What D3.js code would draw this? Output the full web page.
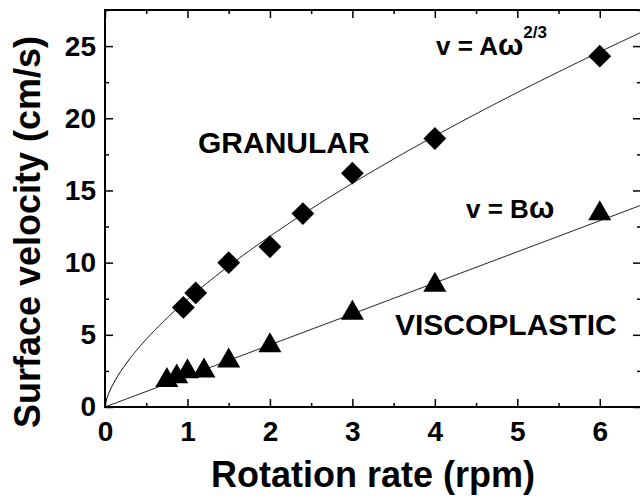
<!DOCTYPE html>
<html>
<head>
<meta charset="utf-8">
<script src="https://cdn.jsdelivr.net/npm/d3@7"></script>
<style>
  body { margin: 0; background: #fff; }
  svg { font-family: "Liberation Sans", Arial, sans-serif; font-weight: bold; }
  .axis path.domain { display: none; }
  .axis line { stroke: #000; stroke-width: 1.5px; }
</style>
</head>
<body>
<svg id="chart"></svg>
<script>
// Data
let granularRate = [0.95, 1.1, 1.5, 2.0, 2.4, 3.0, 4.0, 6.0];
let granularVel  = [6.9, 7.9, 10.0, 11.1, 13.4, 16.2, 18.6, 24.3];
let viscoRate = [0.75, 0.87, 1.0, 1.2, 1.5, 2.0, 3.0, 4.0, 6.0];
let viscoVel  = [1.85, 2.1, 2.45, 2.5, 3.2, 4.25, 6.5, 8.45, 13.4];

// Fit parameters of the two model curves
let fitA = 7.45;   // v = A w^(2/3)
let fitB = 2.15;   // v = B w

let xMajor = [0, 1, 2, 3, 4, 5, 6];
let xMinor = [0.5, 1.5, 2.5, 3.5, 4.5, 5.5, 6.5];
let yMajor = [0, 5, 10, 15, 20, 25];
let yMinor = [2.5, 7.5, 12.5, 17.5, 22.5, 27.5];

// Set the dimensions and margins of the diagram
let margin = {top: 10, right: -1, bottom: 96, left: 105};
let width = 640 - margin.left - margin.right;
let height = 503 - margin.top - margin.bottom;

let svg = d3.select("#chart")
    .attr("width", 640)
    .attr("height", 503)
  .append("g")
    .attr("transform", `translate(${margin.left}, ${margin.top})`);

let x = d3.scaleLinear().domain([0, 6.5]).range([0, width]);
let y = d3.scaleLinear().domain([0, 27.5]).range([height, 0]);

// Inward ticks on all four sides
function addAxis(axis, transform, values, size, labels) {
  let g = svg.append("g")
    .attr("class", "axis")
    .attr("transform", transform)
    .call(axis.tickValues(values).tickSizeInner(-size).tickSizeOuter(0)
      .tickPadding(labels ? labels.pad : 0)
      .tickFormat(labels ? d3.format("d") : ""));
  g.selectAll("text")
    .attr("font-size", labels ? labels.size : 0)
    .attr("fill", "#000");
  return g;
}

addAxis(d3.axisBottom(x), `translate(0, ${height})`, xMajor, 8, {pad: 14, size: 28});
addAxis(d3.axisBottom(x), `translate(0, ${height})`, xMinor, 4);
addAxis(d3.axisTop(x), "translate(0, 0)", xMajor, 8);
addAxis(d3.axisTop(x), "translate(0, 0)", xMinor, 4);
addAxis(d3.axisLeft(y), "translate(0, 0)", yMajor, 8, {pad: 9, size: 28});
addAxis(d3.axisLeft(y), "translate(0, 0)", yMinor, 4);
addAxis(d3.axisRight(y), `translate(${width}, 0)`, yMajor, 8);
addAxis(d3.axisRight(y), `translate(${width}, 0)`, yMinor, 4);

// Frame
svg.append("rect")
  .attr("width", width)
  .attr("height", height)
  .attr("fill", "none")
  .attr("stroke", "#000")
  .attr("stroke-width", 2);

// Fit curves
svg.append("clipPath").attr("id", "clip")
  .append("rect").attr("width", width).attr("height", height);

let wGrid = d3.range(0, 6.5001, 0.01);
let line = d3.line().x(d => x(d[0])).y(d => y(d[1]));

svg.append("path")
  .datum(wGrid.map(w => [w, fitA * Math.pow(w, 2 / 3)]))
  .attr("clip-path", "url(#clip)")
  .attr("fill", "none")
  .attr("stroke", "#000")
  .attr("stroke-width", 1)
  .attr("d", line);

svg.append("path")
  .datum(wGrid.map(w => [w, fitB * w]))
  .attr("clip-path", "url(#clip)")
  .attr("fill", "none")
  .attr("stroke", "#000")
  .attr("stroke-width", 1)
  .attr("d", line);

// Markers
let diamond = d3.symbol().type(d3.symbolSquare).size(260);
svg.selectAll("path.granular")
  .data(granularRate.map((r, i) => [r, granularVel[i]]))
  .enter().append("path")
    .attr("class", "granular")
    .attr("d", diamond)
    .attr("transform", d => `translate(${x(d[0])}, ${y(d[1])}) rotate(45)`)
    .attr("fill", "#000");

let triangle = d3.symbol().type(d3.symbolTriangle).size(230);
svg.selectAll("path.visco")
  .data(viscoRate.map((r, i) => [r, viscoVel[i]]))
  .enter().append("path")
    .attr("class", "visco")
    .attr("d", triangle)
    .attr("transform", d => `translate(${x(d[0])}, ${y(d[1])})`)
    .attr("fill", "#000");

// Annotations
svg.append("text")
  .attr("x", 93).attr("y", 143)
  .attr("font-size", 30)
  .text("GRANULAR");

svg.append("text")
  .attr("x", 290).attr("y", 325)
  .attr("font-size", 30)
  .text("VISCOPLASTIC");

let eqA = svg.append("text")
  .attr("x", 331).attr("y", 45)
  .attr("font-size", 26);
eqA.append("tspan").text("v = A");
eqA.append("tspan").attr("font-size", 30).text("\u03c9");
eqA.append("tspan").attr("font-size", 17).attr("dy", -17).text("2/3");

let eqB = svg.append("text")
  .attr("x", 361).attr("y", 208)
  .attr("font-size", 26);
eqB.append("tspan").text("v = B");
eqB.append("tspan").attr("font-size", 30).text("\u03c9");

// Axis titles
svg.append("text")
  .attr("x", width / 2).attr("y", height + 80)
  .attr("text-anchor", "middle")
  .attr("font-size", 36)
  .text("Rotation rate (rpm)");

svg.append("text")
  .attr("transform", `translate(${40 - margin.left}, ${232 - margin.top}) rotate(-90)`)
  .attr("text-anchor", "middle")
  .attr("font-size", 36)
  .text("Surface velocity (cm/s)");
</script>
</body>
</html>
